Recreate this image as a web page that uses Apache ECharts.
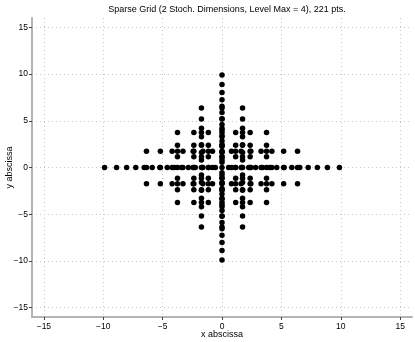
<!DOCTYPE html>
<html>
<head>
<meta charset="utf-8">
<script src="https://cdn.jsdelivr.net/npm/echarts@6/dist/echarts.min.js"></script>
<style>
  html, body { margin: 0; background: #fff; }
  #chart { width: 415px; height: 342px; }
</style>
</head>
<body>
<div id="chart"></div>
<script>
// 1D node sets, one per level (as read along the axes)
const level0 = [0]
const level1 = [-1.73, 0, 1.73]
const level2 = [-3.75, -2.37, -1.15, 0, 1.15, 2.37, 3.75]
const level3 = [-6.36, -5.19, -4.20, -3.29, -2.43, -1.61, -0.80, 0,
                0.80, 1.61, 2.43, 3.29, 4.20, 5.19, 6.36]
const level4 = [-9.89, -8.88, -8.03, -7.26, -6.55, -5.88, -5.23, -4.61,
                -4.01, -3.41, -2.83, -2.25, -1.69, -1.12, -0.56, 0,
                0.56, 1.12, 1.69, 2.25, 2.83, 3.41, 4.01, 4.61,
                5.23, 5.88, 6.55, 7.26, 8.03, 8.88, 9.89]
const levels = [level0, level1, level2, level3, level4]

// (x level, y level) tensor grids that make up the sparse grid
const levelPairs = [[4, 0], [3, 1], [2, 2], [1, 3], [0, 4],
                    [3, 0], [2, 1], [1, 2], [0, 3]]

const tickValues = [-15, -10, -5, 0, 5, 10, 15]

const seen = new Set()
const points = []
levelPairs.forEach(([lx, ly]) => {
  levels[lx].forEach(x => {
    levels[ly].forEach(y => {
      const key = x + ',' + y
      if (seen.has(key)) return
      seen.add(key)
      points.push([x, y])
    })
  })
})

const font = 'Liberation Sans, Arial, sans-serif'
const fmt = v => String(v).replace('-', '\u2212')

const axisCommon = {
  type: 'value',
  min: -16,
  max: 16,
  nameLocation: 'middle',
  nameMoveOverlap: false,
  nameTextStyle: { color: '#000', fontSize: 9, fontFamily: font },
  axisLine: { show: true, onZero: false, lineStyle: { color: '#b4b4b4', width: 2 } },
  axisTick: { show: true, length: 3, customValues: tickValues, lineStyle: { color: '#444' } },
  axisLabel: { customValues: tickValues, color: '#000', fontSize: 8.5, fontFamily: font, formatter: fmt },
  splitLine: { show: true, lineStyle: { color: '#c8c8c8', type: [1, 3], width: 1 } }
}

const chart = echarts.init(document.getElementById('chart'), null, { renderer: 'canvas' })
chart.setOption({
  animation: false,
  backgroundColor: '#fff',
  title: {
    text: 'Sparse Grid (2 Stoch. Dimensions, Level Max = 4), 221 pts.',
    left: 222, top: 0, textAlign: 'center',
    textStyle: { color: '#000', fontSize: 9, fontWeight: 'normal', fontFamily: font }
  },
  grid: { left: 32, right: 3, top: 18, bottom: 25, outerBoundsMode: 'none', containLabel: false },
  xAxis: Object.assign({}, axisCommon, {
    name: 'x abscissa', nameGap: 13,
    axisLabel: Object.assign({}, axisCommon.axisLabel, { margin: 5 })
  }),
  yAxis: Object.assign({}, axisCommon, {
    name: 'y abscissa', nameGap: 18,
    axisLabel: Object.assign({}, axisCommon.axisLabel, { margin: 4 })
  }),
  series: [{
    type: 'scatter',
    data: points,
    symbol: 'circle',
    symbolSize: 5.5,
    itemStyle: { color: '#000', opacity: 1 }
  }]
})
</script>
</body>
</html>
